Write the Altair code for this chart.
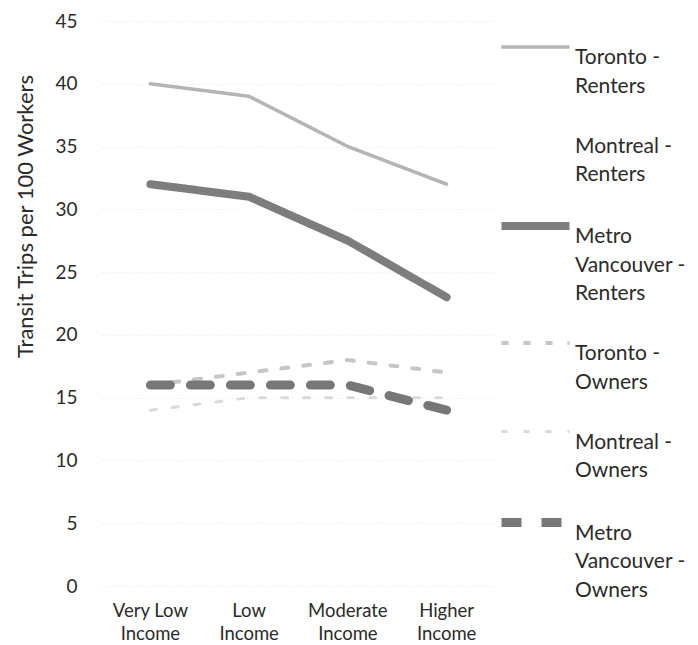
import altair as alt
import pandas as pd

categories = ["Very Low Income", "Low Income", "Moderate Income", "Higher Income"]
series = ["Toronto - Renters", "Montreal - Renters", "Metro Vancouver - Renters",
          "Toronto - Owners", "Montreal - Owners", "Metro Vancouver - Owners"]
toronto_renters = [40, 39, 35, 32]
montreal_renters = [31, 30, 30, 27]   # line not visible in the scan
vancouver_renters = [32, 31, 27.5, 23]
toronto_owners = [16, 17, 18, 17]
montreal_owners = [14, 15, 15, 15]
vancouver_owners = [16, 16, 16, 14]

colors = ["#b5b5b5", "#ffffff", "#7d7d7d", "#c6c6c6", "#dadada", "#777777"]
widths = [3.5, 3, 8, 4, 3, 9]
dashes = [[1, 0], [1, 0], [1, 0], [7, 15], [6, 16], [20, 20]]

values = {
    "Toronto - Renters": toronto_renters,
    "Montreal - Renters": montreal_renters,
    "Metro Vancouver - Renters": vancouver_renters,
    "Toronto - Owners": toronto_owners,
    "Montreal - Owners": montreal_owners,
    "Metro Vancouver - Owners": vancouver_owners,
}
draw_order = ["Montreal - Renters", "Toronto - Renters", "Metro Vancouver - Renters",
              "Montreal - Owners", "Toronto - Owners", "Metro Vancouver - Owners"]

rows = []
for s in draw_order:
    for c, v in zip(categories, values[s]):
        rows.append({"category": c, "series": s, "value": v})
df = pd.DataFrame(rows)

FONT = "Lato"
TXT = "#2b2b2b"

label_expr = (
    "datum.label == 'Metro Vancouver - Renters' ? ['Metro', 'Vancouver -', 'Renters'] : "
    "datum.label == 'Metro Vancouver - Owners' ? ['Metro', 'Vancouver -', 'Owners'] : "
    "split(replace(datum.label, ' - ', ' -|'), '|')"
)

legend = alt.Legend(
    title=None, orient="none", legendX=396, legendY=-10,
    symbolType="stroke", symbolSize=4624,
    labelFont=FONT, labelFontSize=21, labelColor=TXT,
    labelExpr=label_expr, labelBaseline="top", rowPadding=3, padding=0,
    labelOffset=1, labelLimit=200,
)

chart = alt.Chart(df).mark_line(strokeCap="round", strokeJoin="round").encode(
    x=alt.X("category:N", sort=categories, title=None,
            scale=alt.Scale(type="band", paddingInner=0, paddingOuter=0),
            axis=alt.Axis(labelAngle=0, labelFont=FONT, labelFontSize=18.5, labelColor=TXT,
                          labelExpr="[replace(datum.label, ' Income', ''), 'Income']",
                          labelLineHeight=23, domain=False, ticks=False, grid=False,
                          labelPadding=15)),
    y=alt.Y("value:Q", title="Transit Trips per 100 Workers",
            scale=alt.Scale(domain=[0, 45], nice=False),
            axis=alt.Axis(values=list(range(0, 50, 5)), labelFont=FONT, labelFontSize=19,
                          labelColor=TXT, titleFont=FONT, titleFontSize=22,
                          titleFontWeight="normal", titleColor=TXT, titleY=195,
                          domain=False, ticks=False, labelPadding=24, titlePadding=17,
                          gridColor="#eeeeee", gridDash=[2, 3])),
    color=alt.Color("series:N", scale=alt.Scale(domain=series, range=colors), legend=legend),
    strokeWidth=alt.StrokeWidth("series:N", scale=alt.Scale(type="ordinal", domain=series, range=widths), legend=legend),
    strokeDash=alt.StrokeDash("series:N", scale=alt.Scale(domain=series, range=dashes), legend=legend),
).properties(
    width=395, height=565,
    autosize=alt.AutoSizeParams(type="none"),
    padding={"left": 93, "top": 13, "right": 194, "bottom": 58},
).configure(style={"guide-label": {"lineHeight": 28.5}}).configure_view(stroke=None)

chart.save("out.html", embed_options={"renderer": "svg", "actions": False})
